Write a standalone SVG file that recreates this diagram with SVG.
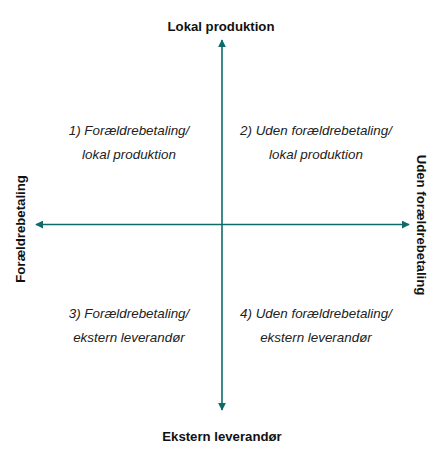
<svg xmlns="http://www.w3.org/2000/svg" width="442" height="459" viewBox="0 0 442 459">
<style>
.ax{stroke:#0f6b6b;stroke-width:1.6;fill:none}
.lb{font-family:"Liberation Sans",Arial,sans-serif;font-weight:bold;font-size:13.2px;fill:#111;text-anchor:middle}
.q{font-family:"Liberation Sans",Arial,sans-serif;font-style:italic;font-size:13.4px;fill:#222;text-anchor:middle}
</style>
<defs>
<marker id="ah" viewBox="0 0 10 10" refX="9" refY="5" markerWidth="5" markerHeight="5" markerUnits="strokeWidth" orient="auto">
<path d="M0,0 L10,5 L0,10 Z" fill="#0f6b6b"/>
</marker>
</defs>
<rect width="442" height="459" fill="#fff"/>
<g id="connectors">
<line class="ax" x1="222" y1="224.5" x2="222" y2="40" marker-end="url(#ah)"/>
<line class="ax" x1="222" y1="224.5" x2="222" y2="410" marker-end="url(#ah)"/>
<line class="ax" x1="222" y1="224.5" x2="36" y2="224.5" marker-end="url(#ah)"/>
<line class="ax" x1="222" y1="224.5" x2="409" y2="224.5" marker-end="url(#ah)"/>
</g>
<g id="top"><text class="lb" x="221" y="31">Lokal produktion</text></g>
<g id="bottom"><text class="lb" x="222" y="441">Ekstern leverandør</text></g>
<g id="left"><text class="lb" transform="translate(25,229) rotate(-90)">Forældrebetaling</text></g>
<g id="right"><text class="lb" transform="translate(417,225) rotate(90)">Uden forældrebetaling</text></g>
<g id="q1"><text class="q" x="129" y="135">1) Forældrebetaling/</text><text class="q" x="129" y="159">lokal produktion</text></g>
<g id="q2"><text class="q" x="316" y="135">2) Uden forældrebetaling/</text><text class="q" x="316" y="159">lokal produktion</text></g>
<g id="q3"><text class="q" x="129" y="318">3) Forældrebetaling/</text><text class="q" x="129" y="342">ekstern leverandør</text></g>
<g id="q4"><text class="q" x="316" y="318">4) Uden forældrebetaling/</text><text class="q" x="316" y="342">ekstern leverandør</text></g>
</svg>
